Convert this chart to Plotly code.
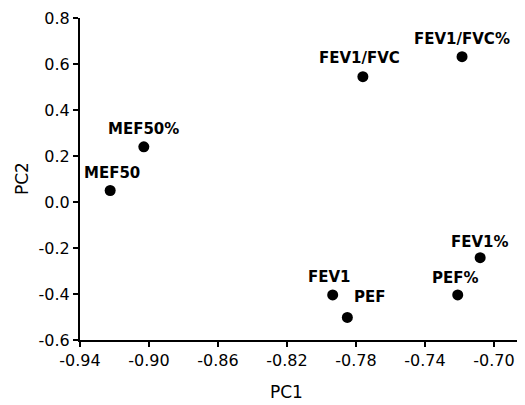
import plotly.graph_objects as go

labels = ["MEF50", "MEF50%", "FEV1/FVC", "FEV1/FVC%", "FEV1%", "PEF%", "FEV1", "PEF"]
pc1 = [-0.9225, -0.903, -0.776, -0.7185, -0.708, -0.721, -0.7935, -0.785]
pc2 = [0.05, 0.24, 0.545, 0.632, -0.242, -0.404, -0.404, -0.502]
label_dx = [2, 0, -3, 0, 0, -2, -3, 23]
label_dy = [18, 18, 19, 18, 16, 17, 18, 20]

x_ticks = [-0.94, -0.90, -0.86, -0.82, -0.78, -0.74, -0.70]
y_ticks = [-0.6, -0.4, -0.2, 0.0, 0.2, 0.4, 0.6, 0.8]

FONT = "DejaVu Sans"

fig = go.Figure(go.Scatter(
    x=pc1, y=pc2, mode="markers",
    marker=dict(color="black", size=11),
    cliponaxis=False, hoverinfo="skip",
))

for lab, x, y, dx, dy in zip(labels, pc1, pc2, label_dx, label_dy):
    fig.add_annotation(x=x, y=y, text=lab, showarrow=False, xanchor="center", yanchor="middle",
                       xshift=dx, yshift=dy,
                       font=dict(family=FONT, size=15, color="black", weight="bold"))

axis_common = dict(showgrid=False, zeroline=False, showline=True, linecolor="black", linewidth=2,
                   ticks="outside", ticklen=5, tickwidth=2, tickcolor="black", automargin=False,
                   tickfont=dict(family=FONT, size=16, color="black"))
fig.update_xaxes(range=[-0.94, -0.682], tickvals=x_ticks,
                 ticktext=[f"{v:.2f}" for v in x_ticks], **axis_common)
fig.update_yaxes(range=[-0.6, 0.8], tickvals=y_ticks,
                 ticktext=[f"{v:.1f}" for v in y_ticks], **axis_common)

fig.add_annotation(text="PC1", xref="paper", yref="paper", x=0.465, y=0, yshift=-52,
                   xanchor="center", yanchor="middle", showarrow=False,
                   font=dict(family=FONT, size=17, color="black"))
fig.add_annotation(text="PC2", xref="paper", yref="paper", x=0, xshift=-58, y=0.5,
                   xanchor="center", yanchor="middle", textangle=-90, showarrow=False,
                   font=dict(family=FONT, size=17, color="black"))

fig.update_layout(width=525, height=405, margin=dict(l=72, r=8, t=10, b=73),
                  plot_bgcolor="white", paper_bgcolor="white", showlegend=False)
fig.write_html("out.html")
